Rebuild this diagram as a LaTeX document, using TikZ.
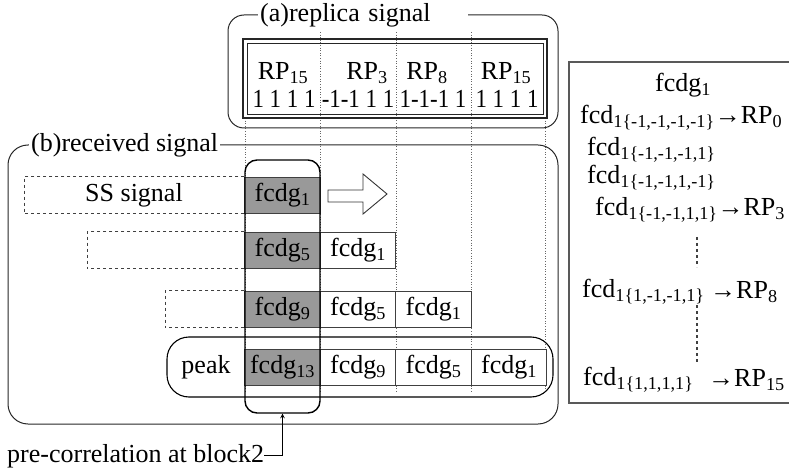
\documentclass[tikz,border=0pt]{standalone}
\usepackage{fontspec}
\setmainfont{Liberation Serif}
\usepackage{tikz}
\usetikzlibrary{arrows}

\tikzset{
  cell/.style={draw=black!75,line width=0.9pt,fill=white,minimum width=75.5pt,minimum height=36pt,inner sep=0pt},
  hit/.style={cell,fill=black!40},
  lead/.style={draw=black!75,dashed,line width=0.8pt},
  guide/.style={draw=black!60,dotted,line width=0.6pt},
  panel/.style={draw=black!85,line width=1pt},
  caption/.style={fill=white,inner xsep=2pt,inner ysep=0pt},
  txt/.style={inner sep=0pt},
}
\newcommand{\bits}[1]{\scalebox{0.88}[1]{#1}}

\begin{document}
\begin{tikzpicture}[x=1pt,y=-1pt,font=\fontsize{26}{30}\selectfont]
\useasboundingbox (0,0) rectangle (789,470);
% column guides
\foreach \x in {320,396,471}{
\draw[guide] (\x,32) -- (\x,393);
}
\foreach \x in {245,545}{
\draw[guide] (\x,118) -- (\x,393);
}
% (a) replica signal
\draw[panel,rounded corners=16pt] (228,15) rectangle (558,128);
\node[caption,anchor=west,text width=206pt,align=left] (ttla) at (258,15) {(a)replica signal};
\draw[black!85,line width=1.6pt] (243,39) rectangle (547,118);
\draw[black!85,line width=0.7pt] (247,43) rectangle (543,114);
\node[txt,anchor=base] (rpa) at (283,80) {RP\textsubscript{15}};
\node[txt,anchor=base] (rpb) at (367,80) {RP\textsubscript{3}};
\node[txt,anchor=base] (rpc) at (427,80) {RP\textsubscript{8}};
\node[txt,anchor=base] (rpd) at (506,80) {RP\textsubscript{15}};
\node[txt,anchor=base] (bita) at (284,108) {\bits{1 1 1 1}};
\node[txt,anchor=base] (bitb) at (358,108) {\bits{-1-1 1 1}};
\node[txt,anchor=base] (bitc) at (433,108) {\bits{1-1-1 1}};
\node[txt,anchor=base] (bitd) at (507,108) {\bits{1 1 1 1}};
% (b) received signal
\draw[panel,rounded corners=20pt] (8,145) rectangle (558,424);
\node[caption,anchor=west] (ttlb) at (29,145) {(b)received signal};
\node[draw,line width=1.1pt,rounded corners=22pt,minimum width=386pt,minimum height=60pt] (pk) at (360,367) {};
\node[hit] (a1) at (282.5,195) {fcdg\textsubscript{1}};
\node[hit] (b1) at (282.5,250) {fcdg\textsubscript{5}};
\node[cell] (b2) at (358,250) {fcdg\textsubscript{1}};
\node[hit] (c1) at (282.5,309) {fcdg\textsubscript{9}};
\node[cell] (c2) at (358,309) {fcdg\textsubscript{5}};
\node[cell] (c3) at (433.5,309) {fcdg\textsubscript{1}};
\node[hit] (d1) at (282.5,367) {fcdg\textsubscript{13}};
\node[cell] (d2) at (358,367) {fcdg\textsubscript{9}};
\node[cell] (d3) at (433.5,367) {fcdg\textsubscript{5}};
\node[cell] (d4) at (509,367) {fcdg\textsubscript{1}};
\draw[lead] (a1.north west) -- ++(-220,0) |- (a1.south west);
\draw[lead] (b1.north west) -- ++(-157,0) |- (b1.south west);
\draw[lead] (c1.north west) -- ++(-79,0) |- (c1.south west);
\node (ss) at (134,195) {SS signal};
\node (pl) at (206,367) {peak};
\draw[black!80,line width=0.9pt,fill=white] (328,190) -- (363,190) -- (363,174) -- (387,194)
  -- (363,214) -- (363,202) -- (328,202) -- cycle;
\node[draw,line width=1.4pt,rounded corners=12pt,minimum width=75pt,minimum height=253pt] (blk) at (282.5,286.5) {};
\node[txt,anchor=base west] (pc) at (7,462) {pre-correlation at block2};
\draw[-stealth,line width=1pt] (pc.east) -| (blk.south);
% candidate table
\draw[black!65,line width=2pt] (569,62) rectangle (795,403);
\node[txt] (g1) at (683,85) {fcdg\textsubscript{1}};
\node[txt,anchor=west] (m0) at (580,118) {fcd\textsubscript{1\{-1,-1,-1,-1\}}→RP\textsubscript{0}};
\node[txt,anchor=west] (m1) at (587,150) {fcd\textsubscript{1\{-1,-1,-1,1\}}};
\node[txt,anchor=west] (m2) at (587,178) {fcd\textsubscript{1\{-1,-1,1,-1\}}};
\node[txt,anchor=west] (m3) at (595,210) {fcd\textsubscript{1\{-1,-1,1,1\}}→RP\textsubscript{3}};
\node[txt,anchor=west] (m8) at (582,292) {fcd\textsubscript{1\{1,-1,-1,1\}}};
\node[txt,anchor=west] (p8) at (710,292) {→RP\textsubscript{8}};
\node[txt,anchor=west] (m15) at (583,380) {fcd\textsubscript{1\{1,1,1,1\}}};
\node[txt,anchor=west] (p15) at (708,380) {→RP\textsubscript{15}};
\draw[lead,line width=1.1pt] (697,237) -- (697,267);
\draw[lead,line width=1.1pt] (697,305) -- (697,363);
\end{tikzpicture}
\end{document}
